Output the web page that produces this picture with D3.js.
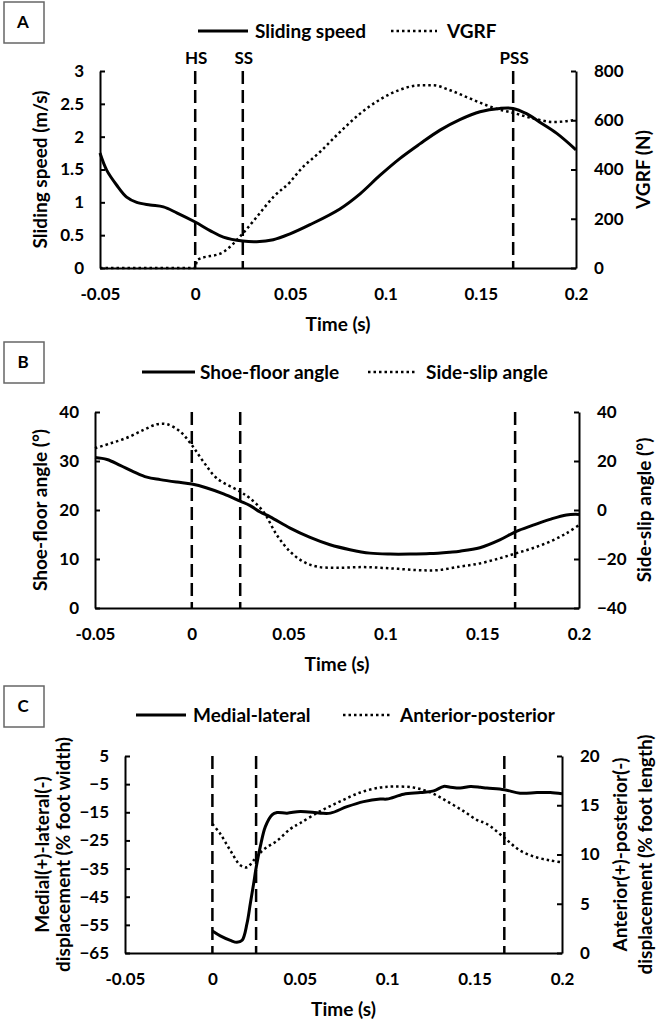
<!DOCTYPE html>
<html><head><meta charset="utf-8">
<script src="https://cdn.jsdelivr.net/npm/d3@7"></script>
<style>
body{margin:0;background:#fff;}
svg{display:block;font-family:Lato,"Open Sans",sans-serif;font-weight:bold;}
</style></head>
<body><svg id="c" width="656" height="1020"></svg>
<script>
// ---------- DATA ----------
const xTicks = [-0.05, 0, 0.05, 0.1, 0.15, 0.2];
const xTickLabels = ["-0.05", "0", "0.05", "0.1", "0.15", "0.2"];
const eventTimes = [0, 0.025, 0.167];
const eventLabels = ["HS", "SS", "PSS"];

// Panel A
const timeSpeed = [-0.05,-0.0465,-0.0412,-0.036,-0.0307,-0.0237,-0.0167,-0.0097,0,0.0078,0.0148,0.025,0.0323,0.041,0.0498,0.0603,0.076,0.0866,0.097,0.1076,0.118,0.1286,0.139,0.1496,0.16,0.167,0.174,0.181,0.1899,0.2];
const slidingSpeed = [1.75,1.49,1.26,1.08,1.0,0.96,0.93,0.84,0.70,0.57,0.47,0.41,0.40,0.43,0.52,0.66,0.90,1.13,1.41,1.67,1.89,2.10,2.26,2.38,2.43,2.43,2.35,2.22,2.05,1.80];
const timeVGRF = [-0.05,0,0.001,0.0148,0.025,0.0323,0.041,0.0498,0.055,0.0655,0.076,0.0866,0.097,0.1076,0.118,0.125,0.1338,0.1426,0.153,0.16,0.167,0.1777,0.188,0.195,0.2];
const vgrf = [0,0,32,65,140,207,288,349,397,471,552,627,684,724,742,742,722,694,661,643,630,607,593,596,603];
const speedTicks = [0,0.5,1,1.5,2,2.5,3];
const vgrfTicks = [0,200,400,600,800];

// Panel B
const timeShoe = [-0.05,-0.0438,-0.037,-0.03,-0.0232,-0.0163,-0.0077,0,0.0078,0.0164,0.025,0.0301,0.0353,0.0405,0.0508,0.0611,0.0714,0.0817,0.092,0.1024,0.1127,0.123,0.1333,0.1385,0.1488,0.1591,0.1674,0.1763,0.185,0.1935,0.2];
const shoeFloorAngle = [30.7,30.3,29.1,27.8,26.7,26.2,25.7,25.3,24.5,23.3,21.8,20.9,19.6,18.6,16.3,14.4,12.9,11.9,11.2,11.0,11.0,11.1,11.4,11.6,12.3,13.9,15.6,16.9,18.1,19.0,19.1];
const timeSlip = [-0.05,-0.042,-0.0335,-0.0249,-0.018,-0.0128,-0.006,0,0.006,0.013,0.025,0.030,0.037,0.0439,0.0508,0.0576,0.0645,0.0749,0.0886,0.1024,0.116,0.1265,0.1385,0.1488,0.159,0.1674,0.176,0.185,0.1935,0.2];
const sideSlipAngle = [25.2,27.2,29.5,32.7,35.0,35.0,32.0,26.5,19.7,12.9,7.5,4.8,-0.7,-10.2,-17.0,-21.1,-23.1,-23.6,-23.3,-23.8,-24.5,-24.6,-23.1,-21.8,-19.7,-17.7,-15.6,-12.9,-9.5,-6.1];
const shoeTicks = [0,10,20,30,40];
const slipTicks = [-40,-20,0,20,40];

// Panel C
const timeML = [0,0.0045,0.0103,0.014,0.017,0.0198,0.0217,0.0236,0.0251,0.0274,0.0303,0.0341,0.037,0.0427,0.0503,0.0617,0.0675,0.077,0.0865,0.096,0.0999,0.1094,0.119,0.1266,0.1323,0.1361,0.1418,0.1476,0.1533,0.157,0.167,0.176,0.1857,0.1933,0.2];
const medialLateral = [-57.2,-58.9,-60.5,-61.2,-60.5,-54.5,-47.4,-40.3,-34.4,-27.2,-20.1,-15.9,-15.1,-15.3,-14.7,-15.3,-15.3,-13.0,-11.2,-10.3,-10.3,-8.6,-8.0,-7.4,-5.8,-6.1,-6.4,-5.8,-6.1,-6.4,-7.0,-8.2,-8.0,-8.0,-8.4];
const timeAP = [0,0.0045,0.0103,0.016,0.0198,0.0236,0.0293,0.037,0.0446,0.0503,0.0617,0.0732,0.0847,0.096,0.1037,0.1151,0.1247,0.1342,0.1437,0.1514,0.157,0.167,0.176,0.1857,0.1933,0.2];
const anteriorPosterior = [13.1,12.1,10.4,8.9,8.7,9.4,10.5,11.4,12.6,13.2,14.4,15.4,16.3,16.8,16.9,16.8,16.3,15.4,14.4,13.5,13.1,11.7,10.4,9.7,9.4,9.2];
const mlTicks = [-65,-55,-45,-35,-25,-15,-5,5];
const apTicks = [0,5,10,15,20];

// ---------- DRAW ----------
const svg = d3.select("#c");
const FS_TICK = 17, FS_TITLE = 19, FS_LEG = 19;

function panel(cfg){
  const g = svg.append("g");
  const x = d3.scaleLinear().domain([-0.05,0.2]).range([cfg.left,cfg.right]);
  const yL = d3.scaleLinear().domain(cfg.yLdom).range([cfg.bottom,cfg.top]);
  const yR = d3.scaleLinear().domain(cfg.yRdom).range([cfg.bottom,cfg.top]);

  // box label
  g.append("rect").attr("x",4).attr("y",cfg.boxY).attr("width",40).attr("height",41)
    .attr("fill","#fff").attr("stroke","#666").attr("stroke-width",1.5);
  g.append("text").attr("x",23).attr("y",cfg.boxY+20.5).attr("dy","0.35em")
    .attr("text-anchor","middle").attr("font-size",17).text(cfg.letter);

  // legend
  const ly = cfg.legY;
  g.append("line").attr("x1",cfg.leg[0]).attr("x2",cfg.leg[1]).attr("y1",ly).attr("y2",ly)
    .attr("stroke","#000").attr("stroke-width",3);
  g.append("text").attr("x",cfg.leg[2]).attr("y",ly).attr("dy","0.35em").attr("font-size",FS_LEG).text(cfg.names[0]);
  g.append("line").attr("x1",cfg.leg[3]).attr("x2",cfg.leg[4]).attr("y1",ly).attr("y2",ly)
    .attr("stroke","#000").attr("stroke-width",2.5).attr("stroke-dasharray","2.5,3");
  g.append("text").attr("x",cfg.leg[5]).attr("y",ly).attr("dy","0.35em").attr("font-size",FS_LEG).text(cfg.names[1]);

  // event lines
  eventTimes.forEach((t,i)=>{
    g.append("line").attr("x1",x(t)).attr("x2",x(t)).attr("y1",cfg.top).attr("y2",cfg.bottom)
      .attr("stroke","#000").attr("stroke-width",2.5).attr("stroke-dasharray","13,6");
    if(cfg.eventLabels){
      g.append("text").attr("x",x(t)+1).attr("y",cfg.top-13).attr("dy","0.35em")
        .attr("text-anchor","middle").attr("font-size",17).text(eventLabels[i]);
    }
  });

  // axes
  const axL = d3.axisLeft(yL).tickValues(cfg.yLticks).tickSize(-5).tickSizeOuter(0).tickPadding(16).tickFormat(d3.format(""));
  const axR = d3.axisRight(yR).tickValues(cfg.yRticks).tickSize(-5).tickSizeOuter(0).tickPadding(18).tickFormat(d3.format(""));
  const axB = d3.axisBottom(x).tickValues(xTicks).tickSize(0).tickSizeOuter(0).tickPadding(20).tickFormat((d,i)=>xTickLabels[i]);
  [ [axL,`translate(${cfg.left},0)`], [axR,`translate(${cfg.right},0)`], [axB,`translate(0,${cfg.bottom})`] ].forEach(([a,tr])=>{
    const ag = g.append("g").attr("transform",tr).call(a);
    ag.select(".domain").attr("stroke","#000").attr("stroke-width",2);
    ag.selectAll(".tick line").attr("stroke","#000").attr("stroke-width",2);
    ag.selectAll("text").attr("font-size",FS_TICK).attr("font-family","Lato").attr("font-weight","bold").attr("fill","#000");
  });

  // series
  const line = (xs,ys,yS,curve)=> d3.line().x((d,i)=>x(xs[i])).y((d,i)=>yS(ys[i])).curve(curve)(ys);
  g.append("path").attr("d",line(cfg.x2,cfg.y2,yR,cfg.curve2)).attr("fill","none").attr("stroke","#000")
    .attr("stroke-width",2.5).attr("stroke-dasharray","2.5,3");
  g.append("path").attr("d",line(cfg.x1,cfg.y1,yL,d3.curveCatmullRom.alpha(0.5))).attr("fill","none").attr("stroke","#000")
    .attr("stroke-width",3).attr("stroke-linejoin","round");

  // titles
  const cy = (cfg.top+cfg.bottom)/2;
  g.append("text").attr("x",(cfg.left+cfg.right)/2).attr("y",cfg.bottom+56).attr("dy","0.35em")
    .attr("text-anchor","middle").attr("font-size",FS_TITLE).text("Time (s)");
  cfg.titleL.forEach((t,i)=>{
    g.append("text").attr("transform",`translate(${cfg.titleLx[i]},${cy}) rotate(-90)`).attr("dy","0.35em")
      .attr("text-anchor","middle").attr("font-size",FS_TITLE).text(t);
  });
  cfg.titleR.forEach((t,i)=>{
    g.append("text").attr("transform",`translate(${cfg.titleRx[i]},${cy}) rotate(-90)`).attr("dy","0.35em")
      .attr("text-anchor","middle").attr("font-size",FS_TITLE).text(t);
  });
}

panel({letter:"A", boxY:2, legY:31, leg:[198,248,255,391,437,447], names:["Sliding speed","VGRF"],
  left:100,right:576,top:71,bottom:268, yLdom:[0,3], yRdom:[0,800], yLticks:speedTicks, yRticks:vgrfTicks,
  x1:timeSpeed,y1:slidingSpeed,x2:timeVGRF,y2:vgrf, curve2:d3.curveMonotoneX, eventLabels:true,
  titleL:["Sliding speed (m/s)"], titleLx:[40], titleR:["VGRF (N)"], titleRx:[643]});

panel({letter:"B", boxY:342, legY:372, leg:[142,195,200,368,416,426], names:["Shoe-floor angle","Side-slip angle"],
  left:95,right:579,top:412,bottom:608, yLdom:[0,40], yRdom:[-40,40], yLticks:shoeTicks, yRticks:slipTicks,
  x1:timeShoe,y1:shoeFloorAngle,x2:timeSlip,y2:sideSlipAngle, curve2:d3.curveCatmullRom.alpha(0.5), eventLabels:false,
  titleL:["Shoe-floor angle  (°)"], titleLx:[40], titleR:["Side-slip angle (°)"], titleRx:[644]});

panel({letter:"C", boxY:686, legY:715, leg:[136,186,193,343,391,400], names:["Medial-lateral","Anterior-posterior"],
  left:125,right:562,top:756,bottom:953, yLdom:[-65,5], yRdom:[0,20], yLticks:mlTicks, yRticks:apTicks,
  x1:timeML,y1:medialLateral,x2:timeAP,y2:anteriorPosterior, curve2:d3.curveCatmullRom.alpha(0.5), eventLabels:false,
  titleL:["Medial(+)-lateral(-)","displacement (% foot width)"], titleLx:[42,63],
  titleR:["Anterior(+)-posterior(-)","displacement (% foot length)"], titleRx:[620,645]});
</script></body></html>
